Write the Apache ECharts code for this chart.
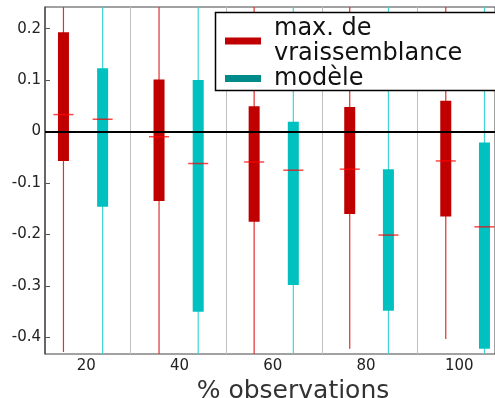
<!DOCTYPE html>
<html>
<head>
<meta charset="utf-8">
<script src="https://cdn.jsdelivr.net/npm/echarts@6/dist/echarts.min.js"></script>
<style>html,body{margin:0;padding:0;background:#fff}#c{width:495px;height:398px}</style>
</head>
<body>
<div id="c"></div>
<script>
// x positions of the boxes (axis units)
const redX  = [15.1, 35.6, 56.0, 76.5, 97.1];
const cyanX = [23.5, 44.0, 64.4, 84.8, 105.4];
// "max. de vraissemblance" boxes
const redLow  = [-0.428, -0.5, -0.5, -0.422, -0.403];
const redQ1   = [-0.057, -0.135, -0.175, -0.160, -0.165];
const redMed  = [0.033, -0.010, -0.059, -0.073, -0.057];
const redQ3   = [0.193, 0.101, 0.049, 0.048, 0.060];
const redHigh = [0.3, 0.3, 0.3, 0.3, 0.3];
// "modèle" boxes
const cyanLow  = [-0.5, -0.5, -0.5, -0.5, -0.5];
const cyanQ1   = [-0.146, -0.350, -0.298, -0.348, -0.422];
const cyanMed  = [0.024, -0.062, -0.075, -0.201, -0.185];
const cyanQ3   = [0.123, 0.100, 0.019, -0.073, -0.021];
const cyanHigh = [0.3, 0.3, 0.3, 0.3, 0.3];
// separators and ticks
const sepX = [29.4, 50.0, 70.6, 90.9];
const xTicks = [20, 40, 60, 80, 100];
const yTicks = [-0.4, -0.3, -0.2, -0.1, 0, 0.1, 0.2];
const names = ['max. de\nvraissemblance', 'modèle'];

const FONT = 'DejaVu Sans';
function rows(x, lo, q1, md, q3, hi) {
  return x.map((v, i) => [v, lo[i], q1[i], md[i], q3[i], hi[i]]);
}
function makeRender(boxColor, whiskColor) {
  return function (params, api) {
    const x = api.value(0);
    const pLo = api.coord([x, api.value(1)]);
    const pQ1 = api.coord([x, api.value(2)]);
    const pMd = api.coord([x, api.value(3)]);
    const pQ3 = api.coord([x, api.value(4)]);
    const pHi = api.coord([x, api.value(5)]);
    const bw = api.size([2.36, 0])[0];
    const mw = api.size([4.3, 0])[0];
    const cx = pQ1[0];
    return {
      type: 'group',
      children: [
        { type: 'line', shape: { x1: cx, y1: pLo[1], x2: cx, y2: pHi[1] }, style: { stroke: whiskColor, lineWidth: 1.2 } },
        { type: 'rect', shape: { x: pQ1[0] - bw / 2, y: pQ3[1], width: bw, height: pQ1[1] - pQ3[1] }, style: { fill: boxColor } },
        { type: 'line', shape: { x1: pMd[0] - mw / 2, y1: pMd[1], x2: pMd[0] + mw / 2, y2: pMd[1] }, style: { stroke: 'rgba(255,0,0,0.72)', lineWidth: 1.5 } }
      ]
    };
  };
}

const chart = echarts.init(document.getElementById('c'), null, { renderer: 'canvas' });
chart.setOption({
  animation: false,
  textStyle: { fontFamily: FONT },
  grid: { left: 45, right: 0, top: 7, bottom: 44, outerBoundsMode: 'none', containLabel: false, show: true, borderColor: '#444', borderWidth: 1, backgroundColor: 'transparent' },
  graphic: [{
    type: 'rect', z: 15, silent: true,
    shape: { x: 215.5, y: 12.5, width: 340, height: 78 },
    style: { fill: '#fff', stroke: '#000', lineWidth: 1.5 }
  }],
  legend: {
    orient: 'vertical', left: 215, top: 13,
    padding: [3, 10, 0, 10], itemGap: 0,
    itemWidth: 36, itemHeight: 7, icon: 'rect',
    backgroundColor: 'transparent', borderWidth: 0,
    textStyle: { fontSize: 24, lineHeight: 25, color: '#111', fontFamily: FONT, padding: [0, 0, 0, 8] },
    data: [
      { name: names[0], itemStyle: { color: '#c00000' } },
      { name: names[1], itemStyle: { color: '#008b8b' } }
    ],
    z: 20
  },
  xAxis: {
    type: 'value', min: 11.14, max: 107.66,
    name: '% observations', nameLocation: 'middle', nameGap: 16,
    nameTextStyle: { fontSize: 25, color: '#333', fontFamily: FONT, padding: [0, 0, 0, 46] },
    axisLine: { show: true, lineStyle: { color: '#888', width: 1.5 } },
    axisTick: { show: false },
    splitLine: { show: false },
    axisLabel: { customValues: xTicks, fontSize: 15, color: '#222', margin: 5, fontFamily: FONT }
  },
  yAxis: {
    type: 'value', min: -0.432, max: 0.242,
    axisLine: { show: true, lineStyle: { color: '#555', width: 1.5 } },
    axisTick: { show: true, inside: true, length: 5, customValues: yTicks, lineStyle: { color: '#555' } },
    splitLine: { show: false },
    axisLabel: {
      customValues: yTicks, fontSize: 15, color: '#222', margin: 4, fontFamily: FONT,
      formatter: v => (Math.abs(v) < 1e-9 ? '0' : v.toFixed(1))
    }
  },
  series: [
    {
      type: 'line', name: 'sep', data: [], z: 1, silent: true,
      markLine: {
        silent: true, symbol: 'none', label: { show: false },
        lineStyle: { color: '#c0c0c0', width: 1, type: 'solid' },
        data: sepX.map(v => ({ xAxis: v }))
      }
    },
    {
      type: 'custom', name: names[0], clip: true, z: 2,
      itemStyle: { color: '#c00000' },
      renderItem: makeRender('#c00000', '#e03030'),
      encode: { x: 0, y: [1, 2, 3, 4, 5] },
      data: rows(redX, redLow, redQ1, redMed, redQ3, redHigh)
    },
    {
      type: 'custom', name: names[1], clip: true, z: 2,
      itemStyle: { color: '#008b8b' },
      renderItem: makeRender('#00c0c0', '#40d4d4'),
      encode: { x: 0, y: [1, 2, 3, 4, 5] },
      data: rows(cyanX, cyanLow, cyanQ1, cyanMed, cyanQ3, cyanHigh)
    },
    {
      type: 'line', name: 'zero', data: [], z: 5, silent: true,
      markLine: {
        silent: true, symbol: 'none', label: { show: false },
        lineStyle: { color: '#000', width: 2, type: 'solid' },
        data: [{ yAxis: 0 }]
      }
    }
  ]
});
</script>
</body>
</html>
